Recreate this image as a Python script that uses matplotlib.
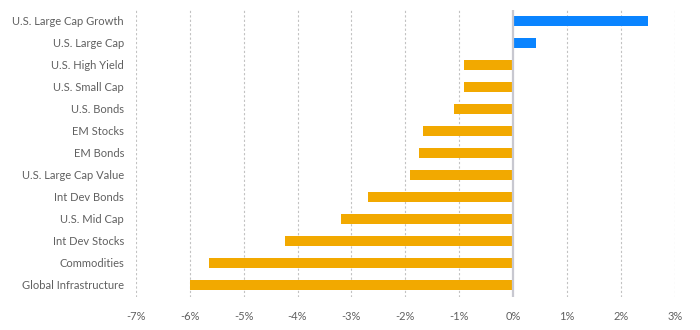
import matplotlib.pyplot as plt

# Data (returns, %)
categories = ["U.S. Large Cap Growth", "U.S. Large Cap", "U.S. High Yield", "U.S. Small Cap",
              "U.S. Bonds", "EM Stocks", "EM Bonds", "U.S. Large Cap Value", "Int Dev Bonds",
              "U.S. Mid Cap", "Int Dev Stocks", "Commodities", "Global Infrastructure"]
returns = [2.50, 0.43, -0.92, -0.92, -1.09, -1.68, -1.74, -1.91, -2.69, -3.20, -4.23, -5.64, -6.00]
xticks = [-7, -6, -5, -4, -3, -2, -1, 0, 1, 2, 3]
xtick_labels = ["-7%", "-6%", "-5%", "-4%", "-3%", "-2%", "-1%", "0%", "1%", "2%", "3%"]

blue = "#0a84ff"
orange = "#f2a900"

plt.rcParams["font.family"] = ["Lato", "DejaVu Sans"]

fig = plt.figure(figsize=(7, 3.3), dpi=100)
ax = fig.add_axes([0.194, 0.100, 0.770, 0.870])

colors = [blue if v > 0 else orange for v in returns]
ax.barh(range(len(categories)), returns, height=0.48, color=colors, zorder=3)

ax.set_xlim(-7, 3)
ax.set_ylim(12.55, -0.5)

ax.set_xticks(xticks)
ax.set_xticklabels(xtick_labels)
ax.set_yticks(range(len(categories)))
ax.set_yticklabels(categories)

ax.tick_params(axis="both", length=0, labelsize=8, colors="#606060")
ax.tick_params(axis="y", pad=8.5)
ax.tick_params(axis="x", pad=10)

for x in xticks:
    if x != 0:
        ax.axvline(x, color="#c2c2c2", linestyle=(0, (2, 2)), linewidth=0.8, zorder=1)
ax.axvline(0, color="#c8c8d0", linewidth=1.6, zorder=4)

for s in ax.spines.values():
    s.set_visible(False)

fig.savefig("out.png", dpi=100)
